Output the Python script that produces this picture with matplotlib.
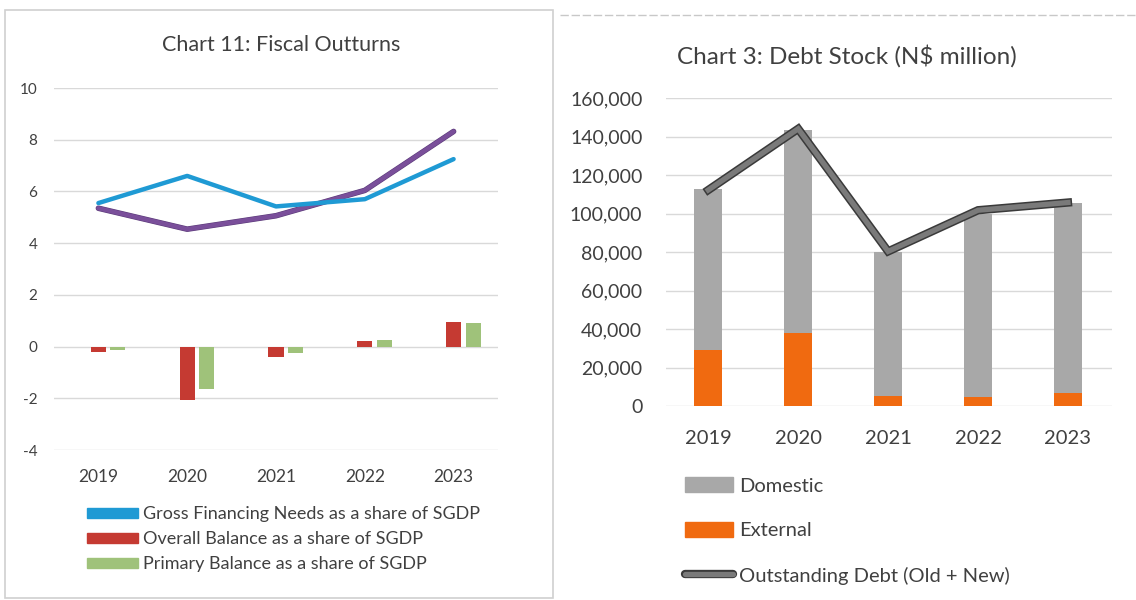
import matplotlib
matplotlib.use('Agg')
import matplotlib.pyplot as plt
import matplotlib.patheffects as pe
from matplotlib.patches import Patch, Rectangle
from matplotlib.lines import Line2D
from matplotlib.ticker import FuncFormatter
import numpy as np

plt.rcParams['font.family'] = ['Lato', 'DejaVu Sans']
plt.rcParams['axes.unicode_minus'] = False

years = ['2019', '2020', '2021', '2022', '2023']

# fiscal outturns, % of SGDP
gross_financing = [5.55, 6.6, 5.42, 5.7, 7.25]
second_line = [5.35, 4.54, 5.06, 6.04, 8.32]
overall_balance = [-0.2, -2.08, -0.42, 0.22, 0.94]
primary_balance = [-0.15, -1.66, -0.23, 0.26, 0.91]

# debt stock, N$ million
domestic = [83700, 105800, 74600, 94600, 99200]
external = [29000, 37700, 5400, 4900, 6500]
outstanding = [112200, 144000, 80300, 101700, 105700]

BLUE = '#1f9ad4'
PURPLE = '#7a4f9a'
RED = '#c53a32'
GREEN = '#9fc27a'
GREY_BAR = '#a8a8a8'
ORANGE = '#f06a10'
GRID = '#d9d9d9'
TEXT = '#404040'

W, H = 1136, 600
fig = plt.figure(figsize=(W / 100, H / 100), dpi=100)
fig.patch.set_facecolor('white')


def px_box(left, top, right, bottom):
    # pixel edges -> figure fraction rect
    return [left / W, 1 - bottom / H, (right - left) / W, (bottom - top) / H]


# outline of the left panel and top edge of the right panel
fig.add_artist(Rectangle((5 / W, 1 - 598 / H), 548 / W, 588 / H,
                         transform=fig.transFigure, fill=False,
                         edgecolor='#d0d0d0', lw=1.2))
fig.add_artist(Line2D([560 / W, 1], [1 - 15 / H, 1 - 15 / H],
                      transform=fig.transFigure, color='#c8c8c8', lw=1,
                      ls=(0, (6, 2))))

x = np.arange(len(years))

# ---- left: fiscal outturns ----
ax1 = fig.add_axes(px_box(54, 88, 498, 450))
ax1.set_ylim(-4, 10)
ax1.set_xlim(-0.5, 4.5)
ax1.set_yticks(range(-4, 11, 2))
ax1.grid(axis='y', color=GRID, lw=1)
ax1.set_axisbelow(True)
for s in ax1.spines.values():
    s.set_visible(False)
ax1.tick_params(length=0, labelsize=11, colors=TEXT, pad=12)
ax1.tick_params(axis='x', labelsize=12.5, pad=14)

bw = 0.17
ax1.bar(x, overall_balance, bw, color=RED)
ax1.bar(x + 0.22, primary_balance, bw, color=GREEN)
ax1.plot(x, second_line, color=PURPLE, lw=3.2, solid_capstyle='round',
         path_effects=[pe.Stroke(linewidth=4, foreground='#5a3a78'), pe.Normal()])
ax1.plot(x, gross_financing, color=BLUE, lw=3.2, solid_capstyle='round')
ax1.set_xticks(x)
ax1.set_xticklabels(years)
fig.text(281 / W, 1 - 45 / H, 'Chart 11: Fiscal Outturns', fontsize=15.5,
         color=TEXT, ha='center', va='center')

h1 = [Patch(color=BLUE), Patch(color=RED), Patch(color=GREEN)]
l1 = ['Gross Financing Needs as a share of SGDP',
      'Overall Balance as a share of SGDP',
      'Primary Balance as a share of SGDP']
ax1.legend(h1, l1, loc='upper left', bbox_to_anchor=(33 / 444, -0.155),
           frameon=False, fontsize=13, labelcolor=TEXT, handlelength=2.8,
           handleheight=0.45, handletextpad=0.3, labelspacing=0.5,
           borderaxespad=0, borderpad=0)

# ---- right: debt stock ----
ax2 = fig.add_axes(px_box(666, 98, 1112, 406))
ax2.set_ylim(0, 160000)
ax2.set_xlim(-0.47, 4.49)
ax2.set_yticks(range(0, 160001, 20000))
ax2.yaxis.set_major_formatter(FuncFormatter(lambda v, p: f'{int(v):,}'))
ax2.grid(axis='y', color=GRID, lw=1)
ax2.set_axisbelow(True)
for s in ax2.spines.values():
    s.set_visible(False)
ax2.tick_params(length=0, labelsize=14, colors=TEXT, pad=17)
ax2.tick_params(axis='x', labelsize=14.5, pad=17)

bw2 = 0.31
ax2.bar(x, external, bw2, color=ORANGE)
ax2.bar(x, domestic, bw2, bottom=external, color=GREY_BAR)
line_fx = [pe.Stroke(linewidth=6, foreground='#3a3a3a'), pe.Normal()]
ax2.plot(x, outstanding, color='#7a7a7a', lw=3.8, solid_joinstyle='miter',
         path_effects=line_fx)
ax2.set_xticks(x)
ax2.set_xticklabels(years)
fig.text(847 / W, 1 - 56 / H, 'Chart 3: Debt Stock (N$ million)', fontsize=17.5,
         color=TEXT, ha='center', va='center')

h2 = [Patch(color=GREY_BAR), Patch(color=ORANGE),
      Line2D([], [], color='#7a7a7a', lw=3.8, solid_capstyle='round',
             path_effects=line_fx)]
l2 = ['Domestic', 'External', 'Outstanding Debt (Old + New)']
ax2.legend(h2, l2, loc='upper left', bbox_to_anchor=(19 / 446, -0.232),
           frameon=False, fontsize=14.5, labelcolor=TEXT, handlelength=2.4,
           handleheight=0.75, handletextpad=0.3, labelspacing=1.35,
           borderaxespad=0, borderpad=0)

fig.savefig('out.png', dpi=100, facecolor='white')
